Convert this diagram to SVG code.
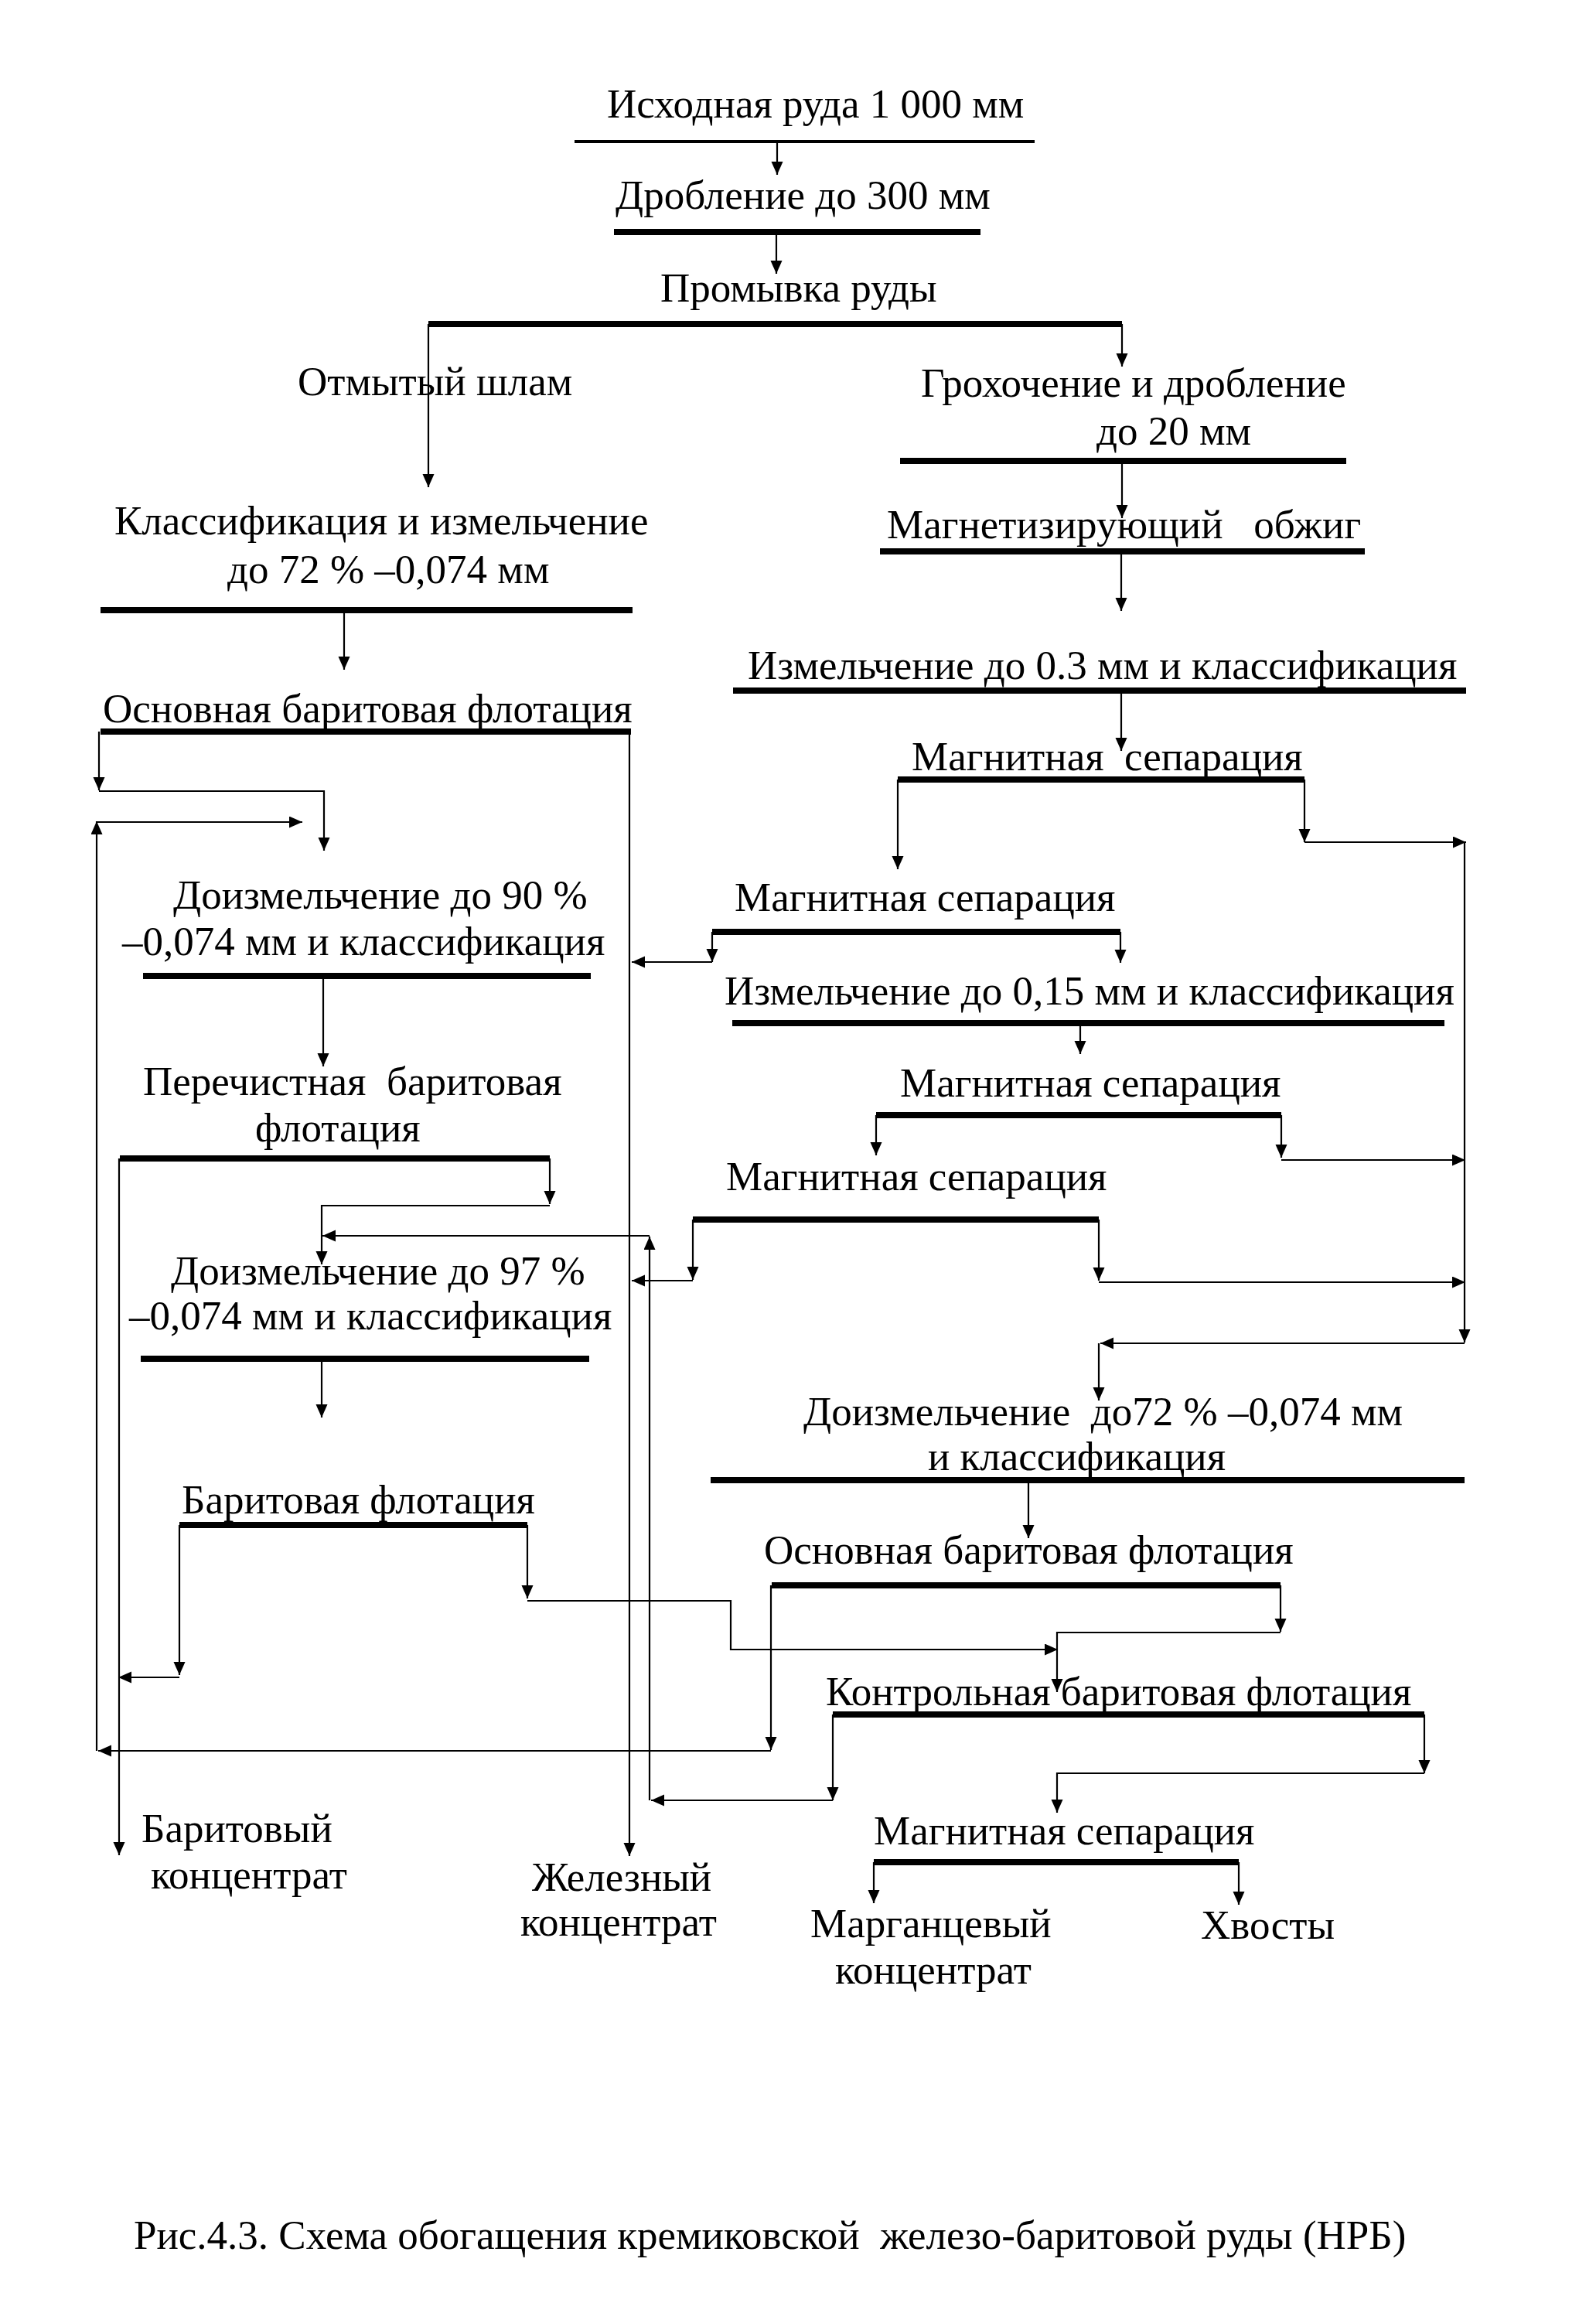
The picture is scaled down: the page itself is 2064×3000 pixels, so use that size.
<svg xmlns="http://www.w3.org/2000/svg" width="2064" height="3000" viewBox="0 0 2064 3000">
<defs>
<marker id="ah" markerUnits="userSpaceOnUse" markerWidth="18" markerHeight="16" refX="17" refY="7.5" orient="auto" viewBox="0 0 18 16">
<path d="M0,0 L17,7.5 L0,15 z" fill="#000"/>
</marker>
<style>
text{font-family:"Liberation Serif","Times New Roman",serif;font-size:53px;fill:#000;white-space:pre}
.cap{font-size:53px}
.bar{stroke:#000;stroke-width:8;fill:none}
.thin{stroke:#000;stroke-width:4;fill:none}
.c{stroke:#000;stroke-width:2.2;fill:none}
.a{marker-end:url(#ah)}
</style>
</defs>
<rect width="2064" height="3000" fill="#fff"/>

<g id="n1"><text x="785" y="152">Исходная руда 1 000 мм</text><line class="thin" x1="743" y1="183" x2="1338" y2="183"/></g>
<g id="n2"><text x="796" y="270">Дробление до 300 мм</text><line class="bar" x1="794" y1="300" x2="1268" y2="300"/></g>
<g id="n3"><text x="854" y="390">Промывка руды</text><line class="bar" x1="554" y1="419" x2="1451" y2="419"/></g>
<g id="n4"><text x="385" y="511">Отмытый шлам</text></g>
<g id="n5"><text x="1191" y="513">Грохочение и дробление</text><text x="1418" y="575">до 20 мм</text><line class="bar" x1="1164" y1="596" x2="1741" y2="596"/></g>
<g id="n6"><text x="1147" y="696">Магнетизирующий   обжиг</text><line class="bar" x1="1138" y1="713" x2="1765" y2="713"/></g>
<g id="n7"><text x="148" y="691">Классификация и измельчение</text><text x="294" y="754">до 72 % –0,074 мм</text><line class="bar" x1="130" y1="789" x2="818" y2="789"/></g>
<g id="n8"><text x="967" y="878">Измельчение до 0.3 мм и классификация</text><line class="bar" x1="948" y1="893" x2="1896" y2="893"/></g>
<g id="n9"><text x="133" y="934">Основная баритовая флотация</text><line class="bar" x1="130" y1="946" x2="816" y2="946"/></g>
<g id="n10"><text x="1179" y="996">Магнитная  сепарация</text><line class="bar" x1="1161" y1="1008" x2="1687" y2="1008"/></g>
<g id="n11"><text x="224" y="1175">Доизмельчение до 90 %</text><text x="158" y="1235">–0,074 мм и классификация</text><line class="bar" x1="185" y1="1262" x2="764" y2="1262"/></g>
<g id="n12"><text x="950" y="1178">Магнитная сепарация</text><line class="bar" x1="921" y1="1205" x2="1449" y2="1205"/></g>
<g id="n13"><text x="937" y="1299">Измельчение до 0,15 мм и классификация</text><line class="bar" x1="947" y1="1323" x2="1868" y2="1323"/></g>
<g id="n14"><text x="185" y="1416">Перечистная  баритовая</text><text x="330" y="1476">флотация</text><line class="bar" x1="155" y1="1498" x2="711" y2="1498"/></g>
<g id="n15"><text x="1164" y="1418">Магнитная сепарация</text><line class="bar" x1="1133" y1="1442" x2="1657" y2="1442"/></g>
<g id="n16"><text x="939" y="1539">Магнитная сепарация</text><line class="bar" x1="896" y1="1577" x2="1421" y2="1577"/></g>
<g id="n17"><text x="221" y="1661">Доизмельчение до 97 %</text><text x="167" y="1719">–0,074 мм и классификация</text><line class="bar" x1="182" y1="1757" x2="762" y2="1757"/></g>
<g id="n18"><text x="235" y="1957">Баритовая флотация</text><line class="bar" x1="232" y1="1972" x2="682" y2="1972"/></g>
<g id="n19"><text x="1039" y="1843">Доизмельчение  до72 % –0,074 мм</text><text x="1200" y="1901">и классификация</text><line class="bar" x1="919" y1="1914" x2="1894" y2="1914"/></g>
<g id="n20"><text x="988" y="2022">Основная баритовая флотация</text><line class="bar" x1="998" y1="2050" x2="1656" y2="2050"/></g>
<g id="n21"><text x="1068" y="2205">Контрольная баритовая флотация</text><line class="bar" x1="1077" y1="2217" x2="1842" y2="2217"/></g>
<g id="n22"><text x="1130" y="2385">Магнитная сепарация</text><line class="bar" x1="1130" y1="2408" x2="1602" y2="2408"/></g>
<g id="n23"><text x="183" y="2382">Баритовый</text><text x="195" y="2442">концентрат</text></g>
<g id="n24"><text x="688" y="2445">Железный</text><text x="673" y="2503">концентрат</text></g>
<g id="n25"><text x="1048" y="2505">Марганцевый</text><text x="1080" y="2565">концентрат</text></g>
<g id="n26"><text x="1553" y="2507">Хвосты</text></g>
<g id="caption"><text class="cap" x="173" y="2908">Рис.4.3. Схема обогащения кремиковской  железо-баритовой руды (НРБ)</text></g>

<g id="connectors">
<path class="c a" d="M1005,183 V226"/>
<path class="c a" d="M1004,300 V354"/>
<path class="c a" d="M554,419 V630"/>
<path class="c a" d="M1451,419 V474"/>
<path class="c a" d="M1451,596 V670"/>
<path class="c a" d="M1450,713 V790"/>
<path class="c a" d="M445,789 V866"/>
<path class="c a" d="M1450,893 V971"/>
<path class="c a" d="M128,946 V1022"/>
<path class="c a" d="M128,1023 H419 V1100"/>
<path class="c a" d="M997,2050 V2263"/>
<path class="c a" d="M997,2264 H127"/>
<path class="c a" d="M125,2264 V1062"/>
<path class="c a" d="M125,1063 H391"/>
<path class="c a" d="M814,946 V2400"/>
<path class="c a" d="M921,1205 V1244"/>
<path class="c a" d="M921,1244 H817"/>
<path class="c a" d="M1449,1205 V1245"/>
<path class="c a" d="M418,1262 V1379"/>
<path class="c a" d="M711,1498 V1557"/>
<path class="c a" d="M711,1559 H416 V1635"/>
<path class="c a" d="M154,1498 V2399"/>
<path class="c a" d="M1077,2217 V2328"/>
<path class="c a" d="M1077,2328 H842"/>
<path class="c a" d="M840,2328 V1599"/>
<path class="c a" d="M840,1598 H417"/>
<path class="c a" d="M896,1577 V1655"/>
<path class="c a" d="M896,1656 H817"/>
<path class="c a" d="M1421,1577 V1656"/>
<path class="c a" d="M1421,1658 H1895"/>
<path class="c a" d="M416,1757 V1833"/>
<path class="c a" d="M232,1972 V2166"/>
<path class="c a" d="M232,2169 H153"/>
<path class="c a" d="M682,1972 V2067"/>
<path class="c a" d="M682,2070 H945 V2133 H1368"/>
<path class="c a" d="M1330,1914 V1989"/>
<path class="c a" d="M1656,2050 V2110"/>
<path class="c a" d="M1656,2111 H1367 V2188"/>
<path class="c a" d="M1842,2217 V2293"/>
<path class="c a" d="M1842,2293 H1367 V2344"/>
<path class="c a" d="M1130,2408 V2461"/>
<path class="c a" d="M1602,2408 V2463"/>
<path class="c a" d="M1161,1008 V1124"/>
<path class="c a" d="M1687,1008 V1089"/>
<path class="c a" d="M1687,1089 H1896"/>
<path class="c a" d="M1894,1089 V1736"/>
<path class="c a" d="M1894,1737 H1423"/>
<path class="c a" d="M1421,1737 V1811"/>
<path class="c a" d="M1133,1442 V1494"/>
<path class="c a" d="M1657,1442 V1497"/>
<path class="c a" d="M1657,1500 H1895"/>
<path class="c a" d="M1397,1323 V1363"/>
</g>
</svg>
